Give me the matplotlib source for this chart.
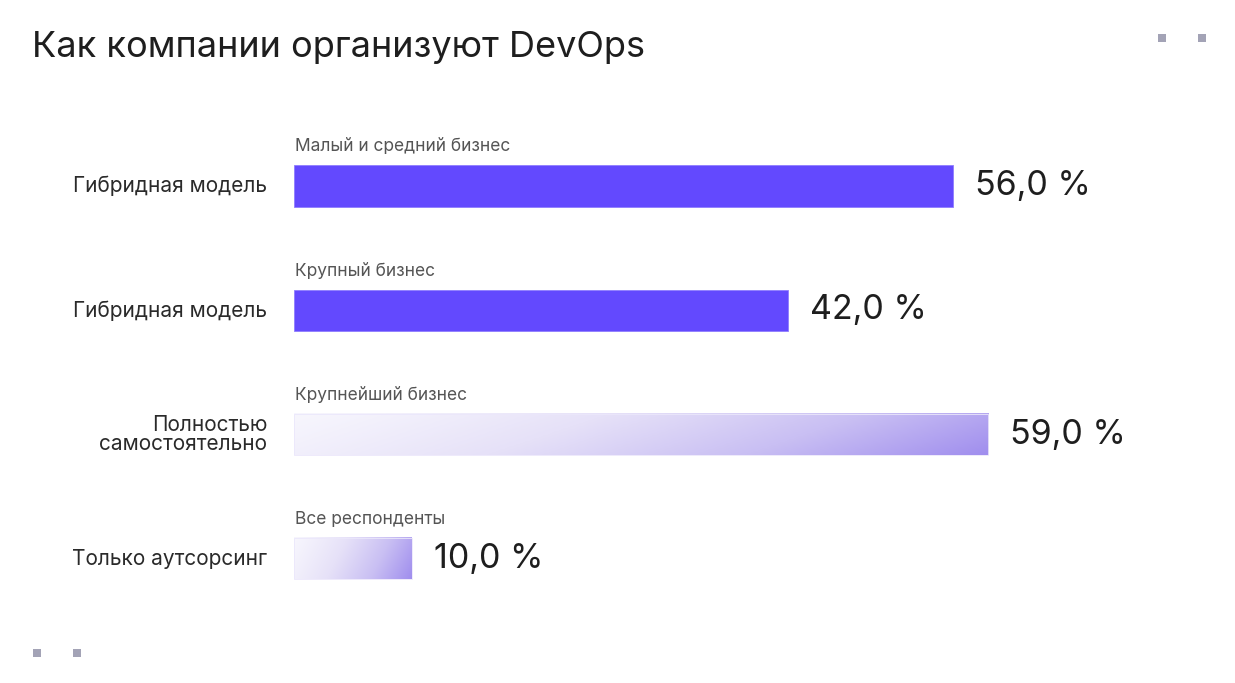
import numpy as np
import matplotlib.pyplot as plt
from matplotlib.patches import Rectangle
from matplotlib.colors import LinearSegmentedColormap

categories = ['Гибридная модель', 'Гибридная модель', 'Полностью\nсамостоятельно', 'Только аутсорсинг']
groups = ['Малый и средний бизнес', 'Крупный бизнес', 'Крупнейший бизнес', 'Все респонденты']
values = [56.0, 42.0, 59.0, 10.0]
solid = [True, True, False, False]

W, H = 1235, 683
plt.rcParams['font.family'] = ['Inter', 'DejaVu Sans']
fig = plt.figure(figsize=(W / 100, H / 100), dpi=100)
fig.patch.set_facecolor('white')

# axes start where the bars start; ~11.8 px per percent
x0 = 294
ppx = 11.77
ax = fig.add_axes([x0 / W, 0, 1 - x0 / W, 1])
step = 124.3
ax.axis('off')

bar_h = 0.33
purple = '#6349fe'
grad = LinearSegmentedColormap.from_list('g', ['#f7f6fd', '#e6e1f8', '#c9bff3', '#a08eee'])

for i, (v, s) in enumerate(zip(values, solid)):
    if s:
        ax.barh(i, v, height=bar_h, color=purple, edgecolor='#8f7dff', linewidth=0.6)
    else:
        xx, yy = np.meshgrid(np.linspace(0, 1, 300), np.linspace(0, 1, 40))
        t = np.clip(0.85 * xx + 0.15 * yy, 0, 1) ** 1.15
        ax.imshow(t, cmap=grad, vmin=0, vmax=1, aspect='auto', interpolation='bilinear',
                  extent=(0, v, i + bar_h / 2, i - bar_h / 2), zorder=1)
        ax.add_patch(Rectangle((0, i - bar_h / 2), v, bar_h, fill=False,
                               edgecolor='#ebe7fb', linewidth=0.6, zorder=2))
    ax.annotate(f'{v:.1f}'.replace('.', ',') + ' %', xy=(v, i), xytext=(22, 0),
                textcoords='offset pixels', va='center', ha='left',
                fontsize=24.5, color='#1e1e1e')
    ax.annotate(categories[i], xy=(0, i), xytext=(-27, 0), textcoords='offset pixels',
                va='center', ha='right', fontsize=15, color='#2a2a2a', linespacing=0.95)
    ax.annotate(groups[i], xy=(0, i), xytext=(1, 39), textcoords='offset pixels',
                va='center', ha='left', fontsize=12.5, color='#555555')

ax.set_xlim(0, (W - x0) / ppx)
ax.set_ylim((H - 186) / step, -186 / step)

fig.text(32 / W, 1 - 47 / H, 'Как компании организуют DevOps', fontsize=26,
         color='#1e1e1e', va='center', ha='left')

# corner squares
for cx, cy in [(1162, 38), (1202, 38), (37, 653), (77, 653)]:
    fig.add_artist(Rectangle(((cx - 4) / W, 1 - (cy + 4) / H), 8 / W, 8 / H,
                             transform=fig.transFigure, color='#a3a3b6', lw=0))

fig.savefig('out.png', dpi=100)
